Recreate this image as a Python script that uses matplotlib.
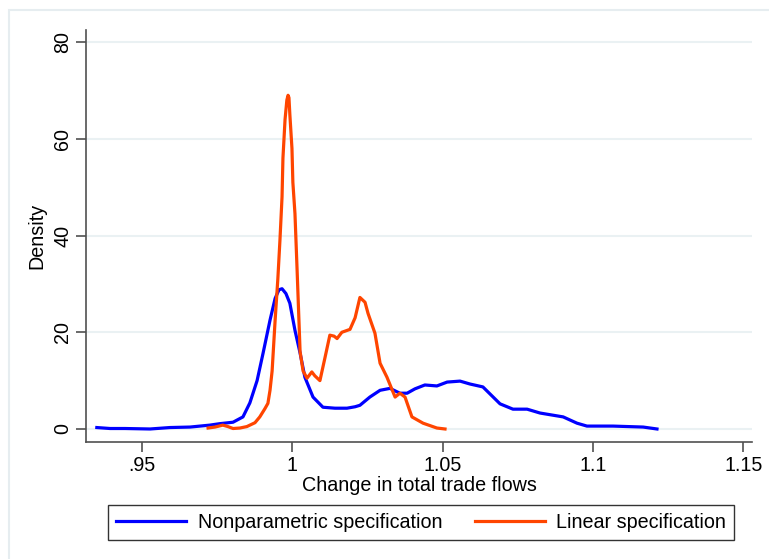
import matplotlib
matplotlib.use("Agg")
import matplotlib.pyplot as plt
from matplotlib.patches import Rectangle

# ---- data ----
np_x = [0.9350, 0.9394, 0.9443, 0.9527, 0.9593, 0.9660, 0.9693, 0.9726, 0.9759,
        0.9803, 0.9836, 0.9859, 0.9883, 0.9903, 0.9926, 0.9943, 0.9956, 0.9966,
        0.9979, 0.9992, 1.0009, 1.0026, 1.0042, 1.0069, 1.0102, 1.0142, 1.0182,
        1.0209, 1.0225, 1.0258, 1.0292, 1.0325, 1.0358, 1.0382, 1.0408, 1.0441,
        1.0481, 1.0515, 1.0558, 1.0591, 1.0634, 1.0691, 1.0734, 1.0781, 1.0824,
        1.0901, 1.0947, 1.0980, 1.1067, 1.1167, 1.1213]
np_y = [0.3, 0.1, 0.1, 0.0, 0.3, 0.4, 0.6, 0.8, 1.1,
        1.4, 2.5, 5.4, 10.0, 15.7, 22.5, 27.0, 28.8, 29.0,
        28.0, 26.0, 20.4, 15.7, 10.7, 6.6, 4.5, 4.3, 4.3,
        4.6, 4.9, 6.6, 8.0, 8.4, 7.4, 7.4, 8.3, 9.1,
        8.9, 9.7, 9.9, 9.3, 8.7, 5.2, 4.1, 4.1, 3.3,
        2.5, 1.2, 0.6, 0.6, 0.4, 0.0]

lin_x = [0.9720, 0.9743, 0.9769, 0.9786, 0.9803, 0.9826, 0.9849, 0.9876, 0.9892,
         0.9909, 0.9919, 0.9926, 0.9933, 0.9943, 0.9952, 0.9959, 0.9966, 0.9969,
         0.9976, 0.9982, 0.9986, 0.9989, 0.9992, 0.9999, 1.0002, 1.0009, 1.0016,
         1.0026, 1.0036, 1.0049, 1.0065, 1.0075, 1.0092, 1.0109, 1.0125, 1.0139,
         1.0149, 1.0165, 1.0192, 1.0209, 1.0225, 1.0242, 1.0252, 1.0275, 1.0292,
         1.0315, 1.0342, 1.0358, 1.0375, 1.0398, 1.0435, 1.0481, 1.0508]
lin_y = [0.2, 0.4, 0.8, 0.5, 0.1, 0.2, 0.5, 1.3, 2.5,
         4.2, 5.3, 8.0, 12.0, 22.5, 31.0, 39.0, 48.0, 56.0,
         64.0, 68.0, 69.0, 68.5, 65.0, 58.0, 51.0, 44.5, 33.0,
         16.0, 12.0, 10.5, 11.8, 11.0, 10.0, 14.8, 19.4, 19.2,
         18.7, 20.0, 20.6, 23.0, 27.2, 26.2, 23.9, 19.8, 13.6,
         10.7, 6.6, 7.4, 6.6, 2.5, 1.2, 0.2, 0.0]

x_ticks = [0.95, 1.0, 1.05, 1.1, 1.15]
x_tick_labels = [".95", "1", "1.05", "1.1", "1.15"]
y_ticks = [0, 20, 40, 60, 80]
y_tick_labels = ["0", "20", "40", "60", "80"]
series_labels = ["Nonparametric specification", "Linear specification"]
x_label = "Change in total trade flows"
y_label = "Density"

# ---- style ----
plt.rcParams['font.family'] = ['Liberation Sans', 'DejaVu Sans']
FS = 14.2
W, H = 769, 559
fig = plt.figure(figsize=(W / 100, H / 100), dpi=100)
fig.patch.set_facecolor("white")

# outer light frame of the graph region
fig.patches.append(Rectangle((9 / W, -0.01), 1.0, 1 - 10 / H + 0.01,
                             transform=fig.transFigure, fill=False,
                             edgecolor="#e6edf0", linewidth=1.5))

ax = fig.add_axes([86 / W, 1 - 442 / H, (752 - 86) / W, (442 - 30) / H])
ax.set_facecolor("white")

ax.plot(np_x, np_y, color="#0000ff", lw=2.3, label=series_labels[0], zorder=3)
ax.plot(lin_x, lin_y, color="#ff4500", lw=2.3, label=series_labels[1], zorder=3)

ax.set_xlim(0.9314, 1.1529)
ax.set_ylim(-2.69, 82.5)

ax.set_xticks(x_ticks)
ax.set_xticklabels(x_tick_labels, fontsize=FS)
ax.set_yticks(y_ticks)
ax.set_yticklabels(y_tick_labels, fontsize=FS, rotation=90, va="center")

ax.yaxis.grid(True, color="#eaf1f3", lw=1.5, zorder=0)
ax.xaxis.grid(False)
ax.set_axisbelow(True)

for s in ["top", "right"]:
    ax.spines[s].set_visible(False)
for s in ["left", "bottom"]:
    ax.spines[s].set_color("#505050")
    ax.spines[s].set_linewidth(1.2)
ax.tick_params(axis="both", direction="out", length=7, width=1.2,
               color="#505050", labelcolor="black", pad=3)

ax.set_xlabel(x_label, fontsize=FS, labelpad=1)
ax.set_ylabel(y_label, fontsize=FS, labelpad=5)

leg = fig.legend(loc="center", bbox_to_anchor=(421 / W, 1 - 522.5 / H),
                 ncol=2, fontsize=FS, frameon=True, fancybox=False,
                 edgecolor="black", handlelength=3.55, handletextpad=0.6,
                 columnspacing=1.65, borderpad=0.4)
leg.get_frame().set_linewidth(1.0)

fig.savefig("out.png", dpi=100, facecolor="white")
